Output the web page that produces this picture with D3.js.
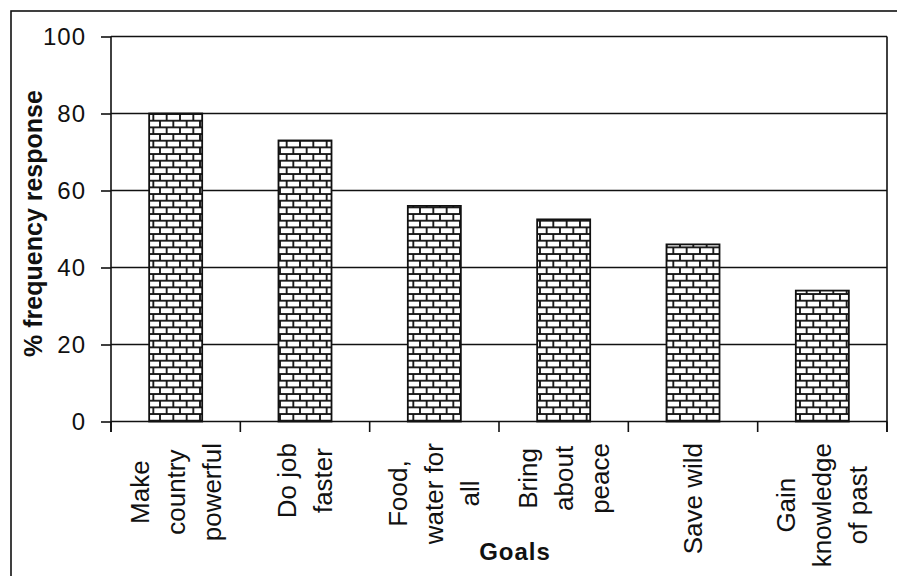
<!DOCTYPE html>
<html><head><meta charset="utf-8">
<script src="https://cdn.jsdelivr.net/npm/d3@7/dist/d3.min.js"></script>
<style>
html,body{margin:0;padding:0;background:#fff;}
svg{display:block;font-family:"Liberation Sans",Arial,sans-serif;}
</style></head>
<body>
<svg id="chart" width="897" height="576"></svg>
<script>
const categories = [
  ["Make","country","powerful"],
  ["Do job","faster"],
  ["Food,","water for","all"],
  ["Bring","about","peace"],
  ["Save wild"],
  ["Gain","knowledge","of past"]
];
const values = [80, 73, 56, 52.5, 46, 34];
const yTicks = [0, 20, 40, 60, 80, 100];
const yTitle = "% frequency response";
const xTitle = "Goals";

const svg = d3.select("#chart");
const m = {left: 111, right: 887, top: 36.5, bottom: 421.5};
const ink = "#111";

// outer border
svg.append("rect").attr("x", 11).attr("y", 11).attr("width", 900).attr("height", 600)
  .attr("fill", "#fff").attr("stroke", ink).attr("stroke-width", 1.6);

// brick pattern
const P = 13.333;
const defs = svg.append("defs");
const pat = defs.append("pattern").attr("id", "brick")
  .attr("patternUnits", "userSpaceOnUse")
  .attr("x", 160).attr("y", 120.7).attr("width", P).attr("height", P);
pat.append("rect").attr("width", P).attr("height", P).attr("fill", "#fff");
const pl = "#111";
pat.append("rect").attr("x", 0).attr("y", -0.9).attr("width", P).attr("height", 1.8).attr("fill", pl);
pat.append("rect").attr("x", 0).attr("y", P - 0.9).attr("width", P).attr("height", 1.8).attr("fill", pl);
pat.append("rect").attr("x", 0).attr("y", P/2 - 0.9).attr("width", P).attr("height", 1.8).attr("fill", pl);
pat.append("rect").attr("x", -0.9).attr("y", 0).attr("width", 1.8).attr("height", P/2).attr("fill", pl);
pat.append("rect").attr("x", P - 0.9).attr("y", 0).attr("width", 1.8).attr("height", P/2).attr("fill", pl);
pat.append("rect").attr("x", P/2 - 0.9).attr("y", P/2).attr("width", 1.8).attr("height", P/2).attr("fill", pl);

const idx = categories.map((c, i) => i);
const x = d3.scaleBand().domain(idx).range([m.left, m.right])
  .paddingInner(0.59).paddingOuter(0.295);
const y = d3.scaleLinear().domain([0, 100]).range([m.bottom, m.top]);

// gridlines
svg.append("g").selectAll("line").data(yTicks.filter(t => t > 0)).join("line")
  .attr("x1", m.left).attr("x2", m.right)
  .attr("y1", d => y(d)).attr("y2", d => y(d))
  .attr("stroke", ink).attr("stroke-width", 1.6);

// right border of plot
svg.append("line").attr("x1", m.right).attr("x2", m.right)
  .attr("y1", y(100)).attr("y2", y(0) + 10.5)
  .attr("stroke", ink).attr("stroke-width", 1.6);

// bars
svg.append("g").selectAll("rect").data(values).join("rect")
  .attr("x", (d, i) => x(i)).attr("width", x.bandwidth())
  .attr("y", d => y(d)).attr("height", d => y(0) - y(d))
  .attr("fill", "url(#brick)").attr("stroke", ink).attr("stroke-width", 1.8);

// y axis
const yAxis = svg.append("g").attr("transform", `translate(${m.left},0)`)
  .call(d3.axisLeft(y).tickValues(yTicks).tickSize(10).tickPadding(15).tickSizeOuter(0));
yAxis.select(".domain").attr("stroke", ink).attr("stroke-width", 1.6)
  .attr("d", `M0,${y(100)}V${y(0) + 10.5}`);
yAxis.selectAll(".tick line").attr("stroke", ink).attr("stroke-width", 1.6);
yAxis.selectAll(".tick text").attr("fill", ink)
  .style("font-size", "24px").style("letter-spacing", "1px")
  .style("font-family", "'Liberation Sans',Arial,sans-serif");

// x axis line
svg.append("line").attr("x1", m.left).attr("x2", m.right)
  .attr("y1", y(0)).attr("y2", y(0)).attr("stroke", ink).attr("stroke-width", 1.6);
// boundary ticks
const bounds = d3.range(categories.length + 1).map(i => m.left + i * x.step());
svg.append("g").selectAll("line").data(bounds).join("line")
  .attr("x1", d => d).attr("x2", d => d)
  .attr("y1", y(0)).attr("y2", y(0) + 10.5)
  .attr("stroke", ink).attr("stroke-width", 1.6);

// category labels (rotated)
const lineGap = 36;
const labelTop = 443;
categories.forEach((lines, i) => {
  const cx = x(i) + x.bandwidth() / 2;
  const g = svg.append("g");
  const texts = lines.map((ln, j) => {
    const lx = cx + (j - (lines.length - 1) / 2) * lineGap;
    return g.append("text").text(ln)
      .attr("text-anchor", "middle").attr("dominant-baseline", "central")
      .attr("fill", ink).style("font-size", "26px")
      .datum(lx);
  });
  const maxLen = d3.max(texts, t => t.node().getComputedTextLength());
  const cy = labelTop + maxLen / 2;
  texts.forEach(t => t.attr("transform", `translate(${t.datum()},${cy}) rotate(-90)`));
});

// axis titles
svg.append("text").text(xTitle)
  .attr("x", 515).attr("y", 551).attr("text-anchor", "middle")
  .attr("dominant-baseline", "central")
  .attr("fill", ink).style("font-size", "24px").style("font-weight", "bold")
  .style("letter-spacing", "1px");

svg.append("text").text(yTitle)
  .attr("transform", `translate(33,${223.5}) rotate(-90)`)
  .attr("text-anchor", "middle").attr("dominant-baseline", "central")
  .attr("fill", ink).style("font-size", "25px").style("font-weight", "bold");
</script>
</body></html>
